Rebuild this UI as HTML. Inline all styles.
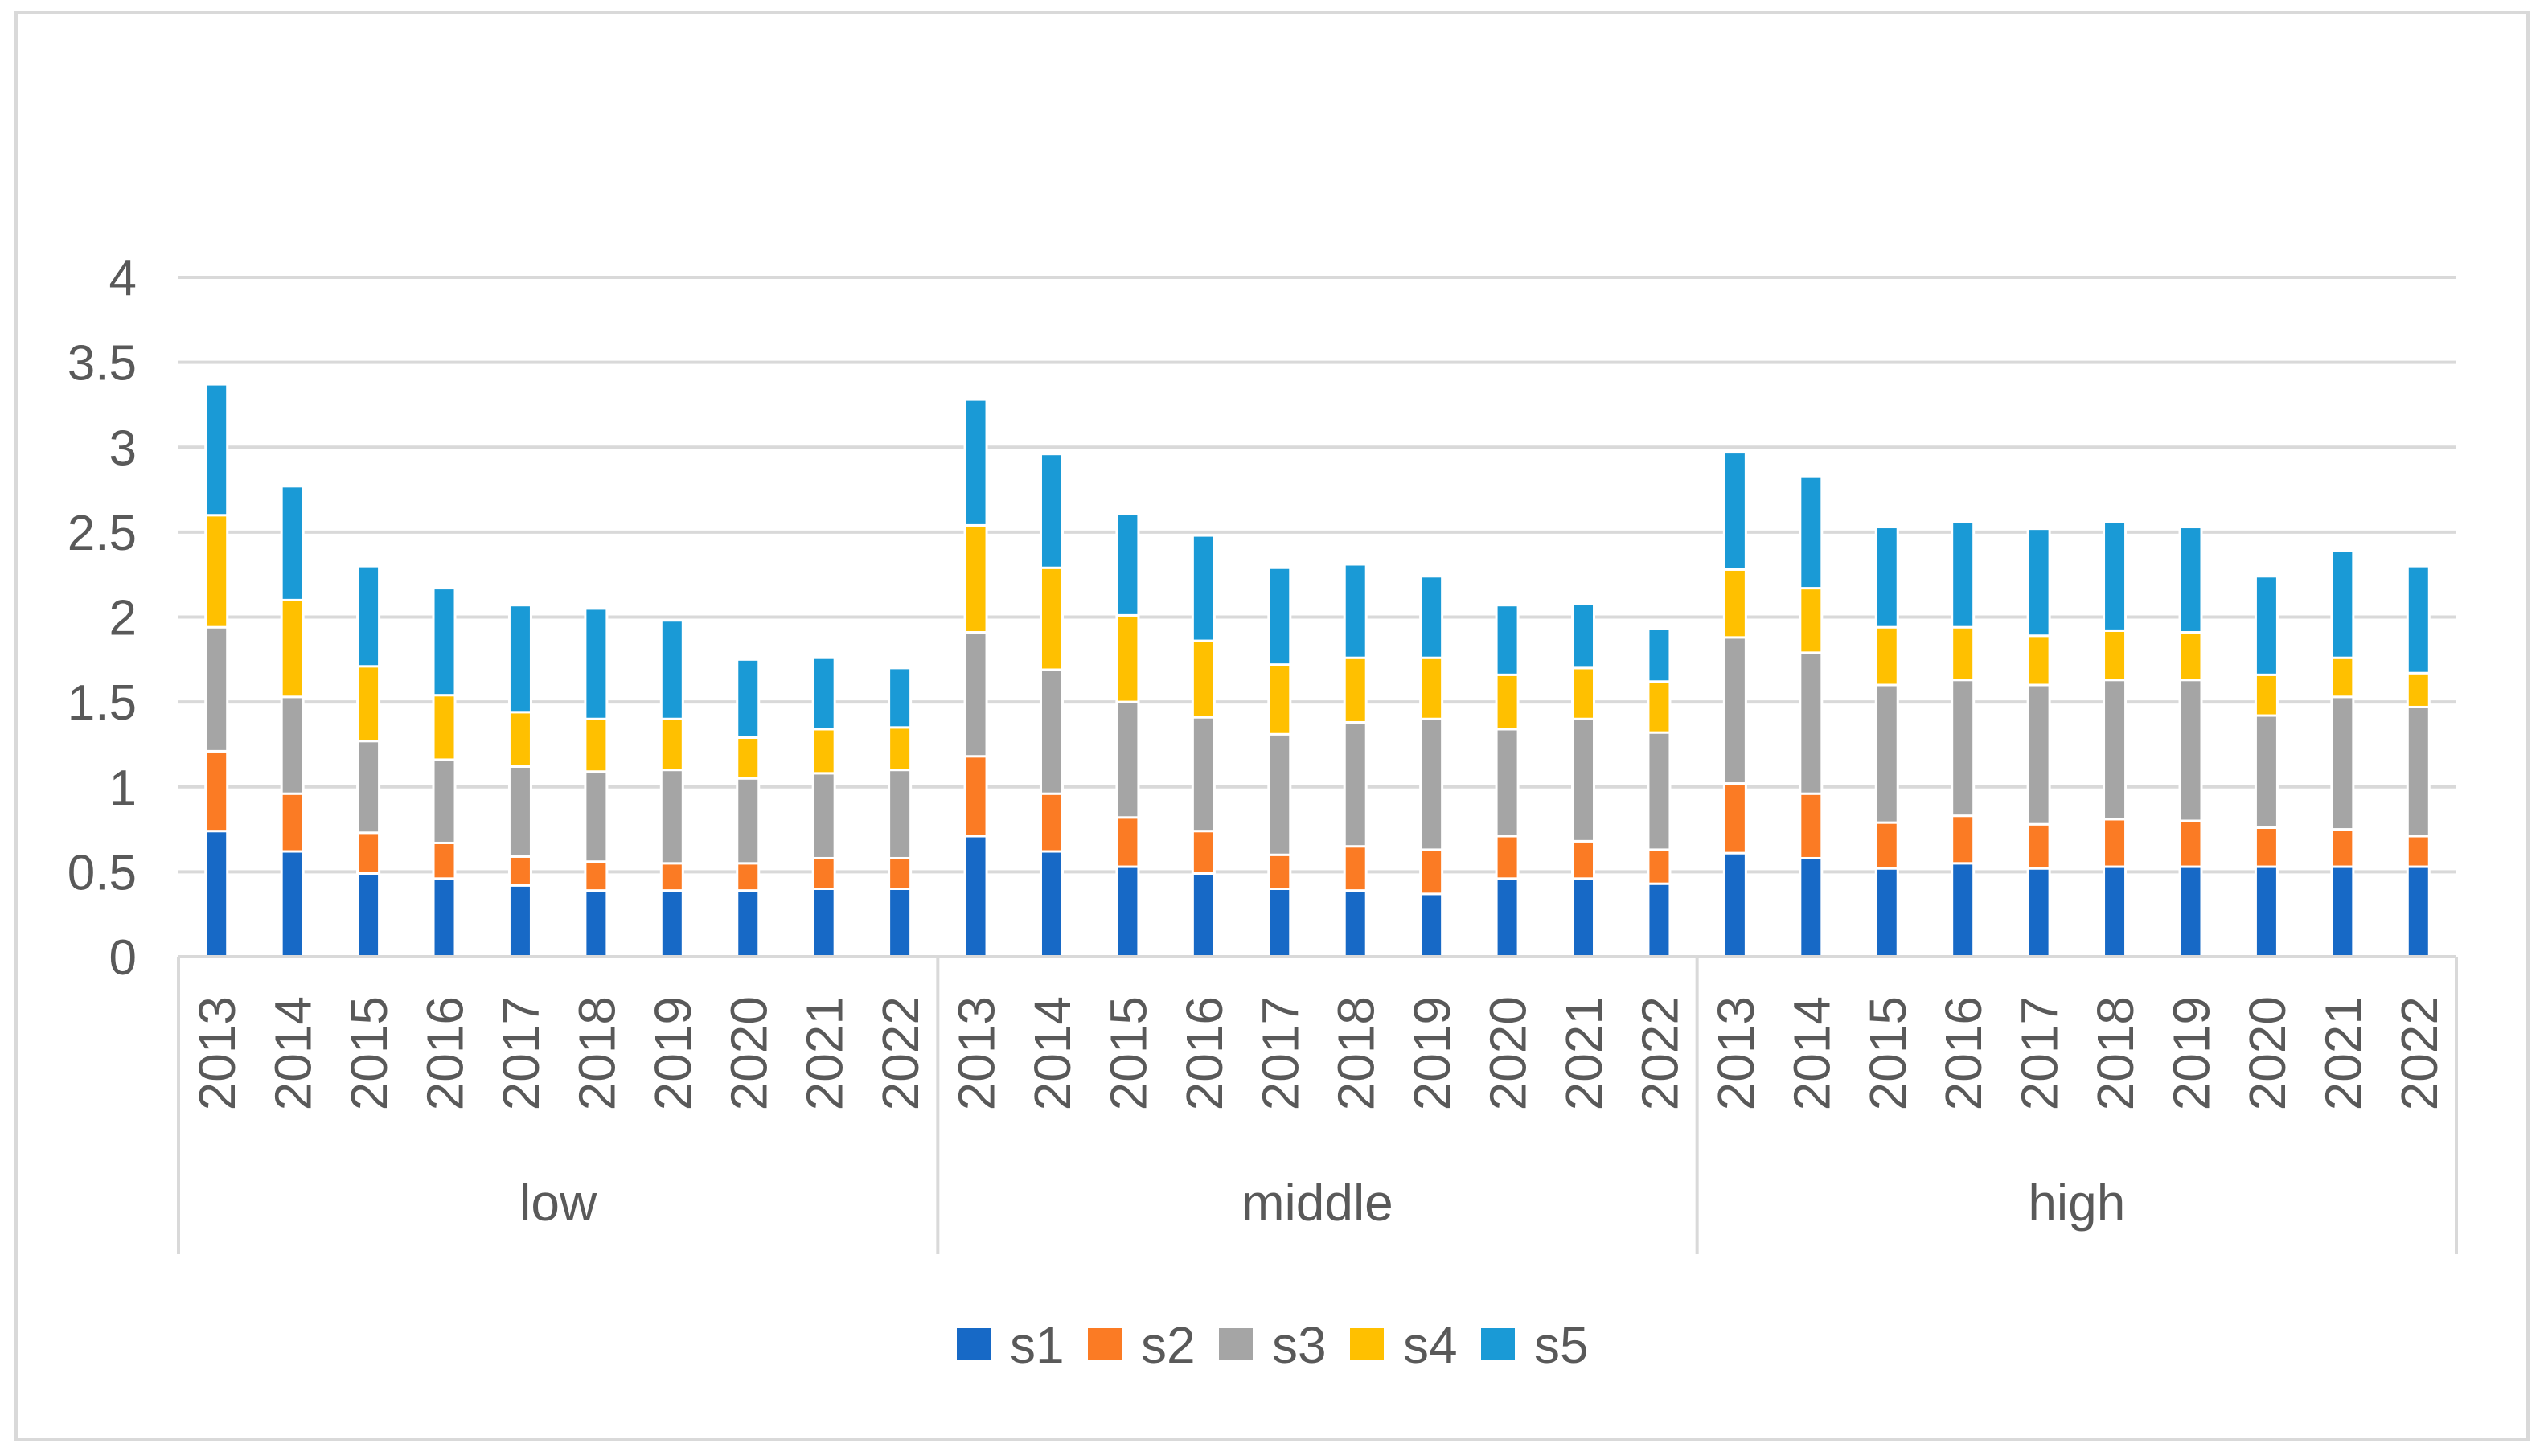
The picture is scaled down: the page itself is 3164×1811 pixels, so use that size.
<!DOCTYPE html>
<html><head><meta charset="utf-8"><style>
html,body{margin:0;padding:0;background:#fff;}
svg{display:block;}
text{font-family:"Liberation Sans",sans-serif;fill:#595959;}
</style></head><body>
<svg id="chart" width="3164" height="1811" viewBox="0 0 3164 1811">
<rect x="20" y="16" width="3124" height="1774" fill="#fff" stroke="#d9d9d9" stroke-width="4"/>
<g id="grid"></g><g id="bars"></g><g id="axis"></g><g id="legend"></g>
</svg>
<script>
const groups = ["low","middle","high"];
const years = ["2013","2014","2015","2016","2017","2018","2019","2020","2021","2022"];
const seriesNames = ["s1","s2","s3","s4","s5"];
const colors = ["#1769c6","#fb7b24","#a5a5a5","#ffc000","#1a9ad6"];
const yTicks = [0,0.5,1,1.5,2,2.5,3,3.5,4];
const yTickLabels = ["0","0.5","1","1.5","2","2.5","3","3.5","4"];
const s1 = [.74,.62,.49,.46,.42,.39,.39,.39,.40,.40, .71,.62,.53,.49,.40,.39,.37,.46,.46,.43, .61,.58,.52,.55,.52,.53,.53,.53,.53,.53];
const s2 = [.47,.34,.24,.21,.17,.17,.16,.16,.18,.18, .47,.34,.29,.25,.20,.26,.26,.25,.22,.20, .41,.38,.27,.28,.26,.28,.27,.23,.22,.18];
const s3 = [.73,.57,.54,.49,.53,.53,.55,.50,.50,.52, .73,.73,.68,.67,.71,.73,.77,.63,.72,.69, .86,.83,.81,.80,.82,.82,.83,.66,.78,.76];
const s4 = [.66,.57,.44,.38,.32,.31,.30,.24,.26,.25, .63,.60,.51,.45,.41,.38,.36,.32,.30,.30, .40,.38,.34,.31,.29,.29,.28,.24,.23,.20];
const s5 = [.77,.67,.59,.63,.63,.65,.58,.46,.42,.35, .74,.67,.60,.62,.57,.55,.48,.41,.38,.31, .69,.66,.59,.62,.63,.64,.62,.58,.63,.63];
const series = [s1,s2,s3,s4,s5];

const NS="http://www.w3.org/2000/svg";
const X0=222, X1=3055, Y0=1190, Y4=345;
const yMax=4;
const yScale=v=>Y0-(v/yMax)*(Y0-Y4);
const nCat=groups.length*years.length;
const slot=(X1-X0)/nCat;
const xCenter=i=>X0+slot*(i+0.5);
const barW=27;
function mk(tag,attrs,parent){const e=document.createElementNS(NS,tag);for(const k in attrs)e.setAttribute(k,attrs[k]);parent.appendChild(e);return e;}
const grid=document.getElementById('grid'),bars=document.getElementById('bars'),axis=document.getElementById('axis'),legend=document.getElementById('legend');

yTicks.forEach((t,i)=>{
  if(t>0){const l=mk('line',{x1:X0,x2:X1,y1:yScale(t),y2:yScale(t),stroke:'#d9d9d9','stroke-width':4},grid);
  
  }
  const tx=mk('text',{x:170,y:yScale(t)+22,'text-anchor':'end','font-size':62},axis);
  tx.textContent=yTickLabels[i];
  
  
});

for(let i=0;i<nCat;i++){
  let cum=0;
  series.forEach((s,k)=>{
    const v=s[i];
    const yTop=yScale(cum+v), yBot=yScale(cum);
    const r=mk('rect',{x:xCenter(i)-barW/2,y:yTop,width:barW,height:Math.max(0,yBot-yTop),fill:colors[k],stroke:'#fff','stroke-width':3},bars);
    
    
    cum+=v;
  });
  const yr=mk('text',{x:0,y:0,'text-anchor':'end','font-size':64,transform:`translate(${xCenter(i)+23},1239) rotate(-90)`},axis);
  yr.textContent=years[i%years.length];
  
  
}

const base=mk('line',{x1:X0,x2:X1,y1:Y0,y2:Y0,stroke:'#d9d9d9','stroke-width':4},axis);


for(let g=0;g<=groups.length;g++){
  const x=X0+g*slot*years.length;
  const l=mk('line',{x1:x,x2:x,y1:Y0,y2:1560,stroke:'#d9d9d9','stroke-width':4},axis);
  
  
}
groups.forEach((gname,g)=>{
  const t=mk('text',{x:X0+(g+0.5)*slot*years.length,y:1518,'text-anchor':'middle','font-size':64},axis);
  t.textContent=gname;
  
  
});

seriesNames.forEach((n,k)=>{
  const x=1190+k*163;
  const r=mk('rect',{x:x,y:1652,width:42,height:40,fill:colors[k]},legend);
  
  
  const t=mk('text',{x:x+66,y:1695,'font-size':64},legend);
  t.textContent=n;
  
  
});
</script>
</body></html>
